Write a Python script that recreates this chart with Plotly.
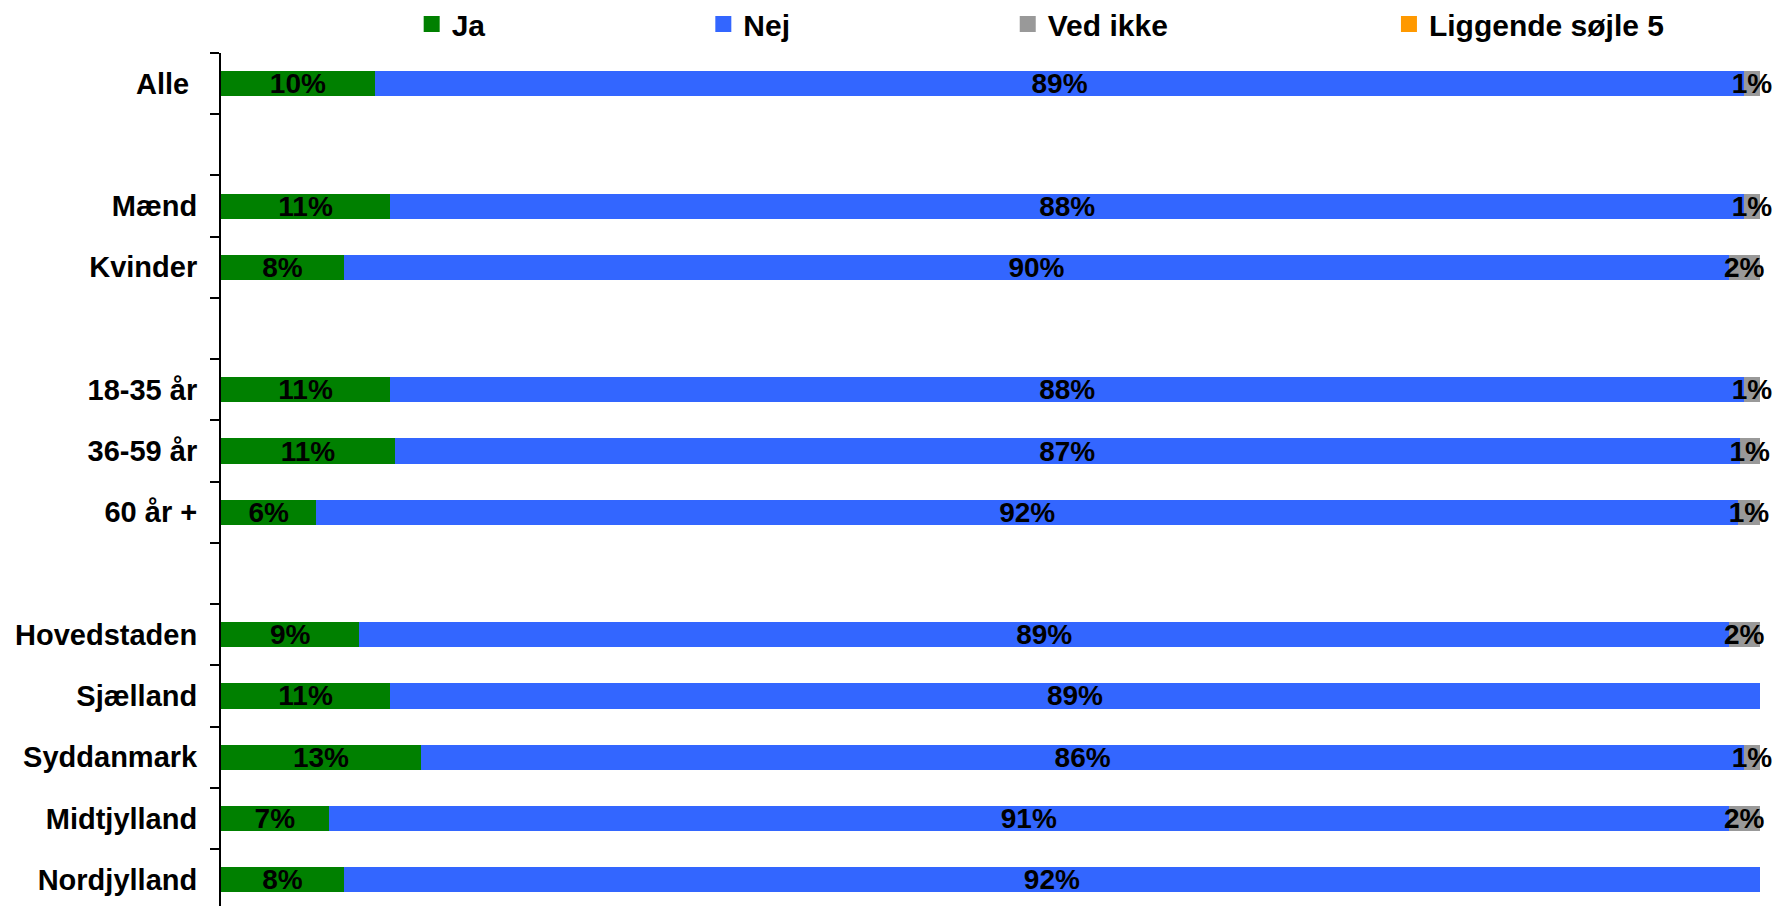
import plotly.graph_objects as go

# rows (blank strings are spacer rows between groups)
categories = ["Alle\u00a0", "Mænd", "Kvinder", "18-35 år", "36-59 år", "60 år +",
              "Hovedstaden", "Sjælland", "Syddanmark", "Midtjylland", "Nordjylland"]
rowOrder = ["Alle\u00a0", " ", "Mænd", "Kvinder", "  ", "18-35 år", "36-59 år", "60 år +", "   ",
            "Hovedstaden", "Sjælland", "Syddanmark", "Midtjylland", "Nordjylland"]

ja = [10, 11, 8, 11, 11.3, 6.2, 9, 11, 13, 7, 8]
nej = [89, 88, 90, 88, 87.4, 92.4, 89, 89, 86, 91, 92]
vedIkke = [1, 1, 2, 1, 1.3, 1.4, 2, 0, 1, 2, 0]
soejle5 = [0] * len(categories)

seriesNames = ["Ja", "Nej", "Ved ikke", "Liggende søjle 5"]
seriesColors = ["#008000", "#3366FF", "#999999", "#FF9900"]
seriesValues = [ja, nej, vedIkke, soejle5]
legendNames = ["legend", "legend2", "legend3", "legend4"]
legendX = [0.1239, 0.3134, 0.5112, 0.7589]

FONT = "Liberation Sans, Arial, sans-serif"

fig = go.Figure()

for name, color, values in zip(seriesNames, seriesColors, seriesValues):
    labels = [f"{round(v)}%" if v > 0 else "" for v in values]
    fig.add_trace(go.Bar(
        y=categories, x=values, name=name, orientation="h",
        marker=dict(color=color, line=dict(width=0)),
        text=labels, textposition="inside", insidetextanchor="middle",
        constraintext="none", textangle=0, cliponaxis=False,
        textfont=dict(family=FONT, size=28, color="black", weight="bold"),
        showlegend=False, hoverinfo="skip",
    ))

# legend-only entries: bar legend squares are fixed at 12px, square markers can be bigger
for name, color, leg in zip(seriesNames, seriesColors, legendNames):
    fig.add_trace(go.Scatter(
        x=[None], y=[None], mode="markers", name=name,
        marker=dict(symbol="square", size=16, color=color),
        legend=leg, showlegend=True, hoverinfo="skip",
    ))

fig.update_layout(
    width=1776, height=906,
    margin=dict(l=221, r=16, t=53, b=0),
    plot_bgcolor="white", paper_bgcolor="white",
    barmode="stack", bargap=0.59, showlegend=True,
    font=dict(family=FONT, size=28, color="black", weight="bold"),
)

# one legend per entry so each can sit where the original put it
for leg, lx in zip(legendNames, legendX):
    fig.update_layout({leg: dict(x=lx, y=1 - 24 / 906, yref="container", xanchor="left", yanchor="middle",
                                 orientation="h", bgcolor="rgba(0,0,0,0)", borderwidth=0,
                                 font=dict(family=FONT, size=30, color="black", weight="bold"))})

fig.update_xaxes(visible=False, range=[0, 100.02], showgrid=False, zeroline=False)
fig.update_yaxes(
    type="category", categoryorder="array", categoryarray=rowOrder,
    range=[13.43, -0.5], showgrid=False, zeroline=False,
    showline=True, linecolor="black", linewidth=2,
    ticks="outside", tickson="boundaries", ticklen=9, tickwidth=2, tickcolor="black",
    ticklabelstandoff=16,
    tickfont=dict(family=FONT, size=29, color="black", weight="bold"),
)

# drop the browser's default body margin so the figure fills the window
fig.write_html("out.html", config={"displayModeBar": False},
               post_script="document.body.style.margin='0';document.body.style.overflow='hidden';")
